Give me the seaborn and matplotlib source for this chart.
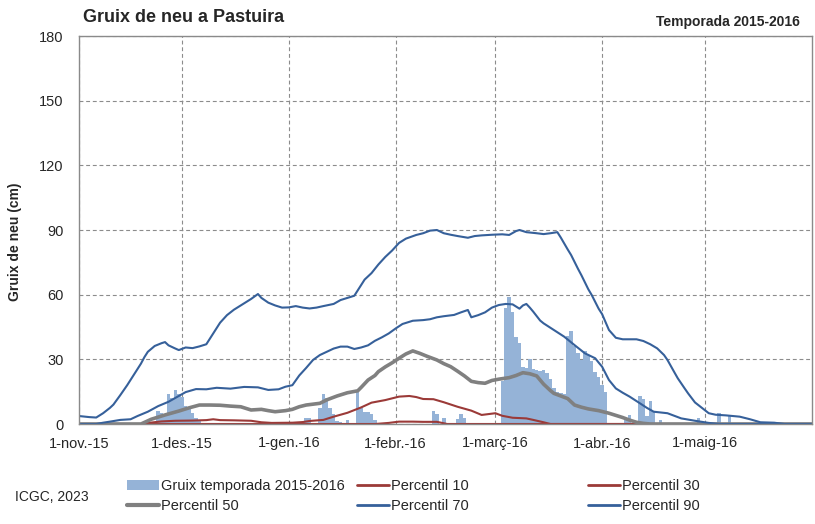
import pandas as pd
import matplotlib
matplotlib.use('Agg')
import matplotlib.pyplot as plt
from matplotlib.patches import Patch
from matplotlib.lines import Line2D
import seaborn as sns

# --- Data ---
season_start = '2015-11-01'
season_end = '2016-06-01'
month_labels = ['1-nov.-15', '1-des.-15', '1-gen.-16', '1-febr.-16',
                '1-març-16', '1-abr.-16', '1-maig-16']

# daily snow depth 2015-2016 (cm), one list per month
depth_nov = [0, 0, 0, 0, 0, 0, 0, 0, 0, 0, 0, 0, 0, 0, 0, 0, 0, 0, 0, 0,
             0, 0, 0, 6, 5, 4, 14, 12, 16, 14]
depth_des = [12.5, 8.5, 7, 5, 3, 1.5, 0, 0, 0, 0, 0, 0, 0, 0, 0, 0, 0, 0, 0, 0,
             0, 0, 0, 0, 0, 0, 0, 0, 0, 0, 0]
depth_gen = [0, 0, 0, 0, 0, 3, 3, 0, 0, 7.5, 14, 12, 7.5, 4.5, 1.5, 1, 0, 2, 0, 0,
             15, 7.5, 5.5, 5.5, 4.5, 2, 0, 0, 0, 0, 0]
depth_feb = [0, 0, 0, 0, 0, 0, 0, 0, 0, 0, 0, 6, 4.5, 0, 3, 0, 0, 0, 2.5, 4.5,
             3, 0, 0, 0, 0, 0, 0, 0, 0]
depth_mar = [0, 0, 20, 54, 59, 52, 40.5, 37.5, 26.5, 26, 30, 25.5, 25, 24.5, 25, 23.5,
             21, 16.5, 15, 14.2, 14, 41, 43, 36, 33, 29.5, 34, 32, 29, 24, 22]
depth_abr = [18, 15, 0, 0, 0, 0, 0, 2.5, 4, 0, 0, 13, 11.5, 3.5, 10.5, 6, 0, 2, 0, 0,
             0, 0, 0, 0, 0, 0, 0, 0, 3, 0]
depth_mai = [0, 0, 0, 0, 5, 0, 0, 3.5, 0, 0, 0, 0, 0, 0, 0, 0, 0, 0, 0, 0,
             0, 0, 0, 0, 0, 0, 0, 0, 0, 0, 0]

# percentiles, read at irregular days after 1 Nov
p90_days = [0, 3, 5, 7, 9, 10, 12, 14, 16, 18, 19, 20, 22, 24, 25, 26, 28, 29, 31, 33,
            35, 37, 39, 41, 43, 45, 47, 49, 50, 52, 53, 55, 57, 59, 61, 63, 65, 67, 69, 71,
            74, 76, 78, 80, 81, 83, 85, 87, 89, 91, 93, 95, 98, 100, 102, 104, 106, 108, 110, 113,
            115, 117, 120, 123, 125, 127, 128, 130, 133, 135, 137, 139, 140, 142, 143, 145, 146, 148, 149, 151,
            152, 154, 156, 158, 160, 162, 164, 166, 168, 170, 171, 173, 174, 176, 177, 179, 181, 183, 185, 188,
            192, 195, 198, 202, 205, 213]
p90_vals = [3.7, 3.2, 3.0, 5.0, 7.5, 9.0, 13.4, 18, 23, 28, 31, 33.5, 36.2, 37.5, 38, 36.5, 35, 34.3, 35.5, 35.2,
            36, 37, 42, 47, 50.5, 53, 55, 57, 58, 60.3, 58.5, 56.3, 55, 54, 54.1, 54.7, 54, 53.6, 54, 54.7,
            55.7, 57.5, 58.5, 59.5, 62, 67, 70, 74, 77.5, 80.5, 84, 86, 87.7, 88.5, 89.7, 90, 88.5, 87.8, 87.2, 86.4,
            87.2, 87.5, 87.8, 88, 87.7, 89.5, 90, 89, 88.5, 88.1, 88.5, 89, 86.5, 81, 78.4, 72, 69, 62.5, 59.8, 53.5,
            51, 43.6, 40, 39.3, 39.3, 39.3, 38.5, 37, 35.1, 32, 29.7, 24, 21.2, 16.5, 14.2, 10, 7.5, 5.0, 4.3, 4.0,
            3.4, 2.2, 0.8, 0.6, 0, 0]

p70_days = [0, 5, 7, 9, 12, 15, 17, 20, 23, 26, 29, 31, 34, 37, 40, 44, 48, 52, 55, 58,
            60, 62, 64, 66, 68, 70, 72, 74, 76, 78, 80, 82, 84, 86, 88, 90, 92, 94, 97, 100,
            102, 104, 106, 109, 111, 113, 114, 116, 118, 120, 122, 124, 126, 128, 129, 130, 131, 132, 134, 135,
            138, 141, 144, 147, 150, 151, 152, 154, 156, 158, 160, 163, 165, 167, 171, 173, 175, 179, 183, 186,
            213]
p70_vals = [0, 0, 0.6, 1.1, 1.9, 2.2, 3.7, 5.7, 8.3, 10.3, 13, 14.8, 16.2, 16.1, 16.8, 16.4, 17.2, 17, 15.8, 16.1,
            17.3, 18, 22.5, 26, 29.7, 32, 33.5, 35, 35.9, 35.9, 34.8, 35.5, 36.5, 38.6, 40.2, 42, 44.3, 46.4, 47.9, 48.2,
            48.6, 49.5, 50, 50.6, 51.8, 52.9, 49.5, 50.5, 51.8, 54, 55.2, 55.7, 55.5, 53.5, 55, 55.7, 54, 52.1, 48, 46.7,
            43.6, 40.5, 36.6, 32.8, 30.5, 28.5, 26.6, 20.4, 16.5, 14.5, 12.7, 9.6, 7.5, 5.7, 5, 3.8, 2.6, 1.5, 0.5, 0,
            0]

p50_days = [0, 18, 21, 25, 29, 32, 35, 38, 41, 44, 47, 50, 53, 55, 57, 60, 62, 64, 66, 68,
            70, 72, 75, 78, 81, 82, 84, 86, 87, 89, 91, 93, 95, 97, 99, 101, 104, 106, 108, 110,
            112, 114, 116, 118, 120, 122, 125, 127, 129, 131, 133, 135, 137, 138, 140, 142, 144, 146, 148, 151,
            154, 156, 158, 160, 162, 164, 166, 213]
p50_vals = [0, 0, 2.2, 4.2, 6, 7.5, 8.8, 8.8, 8.7, 8.3, 8, 6.5, 6.8, 6.2, 5.7, 6.2, 6.8, 8, 8.8, 9.2,
            9.6, 11.2, 13, 14.5, 15.4, 17, 20.4, 22.5, 24.3, 26.5, 28.4, 30.5, 32.5, 33.9, 32.8, 31.5, 29.7, 28, 26.6, 24.5,
            22.3, 19.8, 19.2, 18.9, 20.2, 20.8, 21.5, 22.5, 23.8, 23.3, 22.3, 18.5, 15.5, 14.2, 13, 11.8, 8.8, 7.8, 7, 6.2,
            5, 4, 3, 1.8, 0.8, 0.3, 0, 0]

p30_days = [0, 18, 20, 24, 28, 33, 37, 39, 41, 45, 50, 53, 56, 62, 65, 67, 71, 74, 78, 82,
            85, 89, 93, 96, 98, 100, 103, 106, 110, 114, 117, 120, 121, 123, 126, 130, 132, 135, 137, 213]
p30_vals = [0, 0, 0.5, 1.2, 1.5, 1.6, 1.8, 2.2, 1.8, 1.7, 1.5, 0.8, 0.5, 0.6, 0.9, 1.4, 1.9, 3.4, 5.2, 7.7,
            9.9, 11.1, 12.7, 13, 12.5, 11.6, 11.5, 10.1, 8, 6.2, 4.2, 4.8, 5, 3.8, 2.9, 2.6, 1.9, 0.8, 0, 0]

p10_days = [0, 86, 90, 93, 97, 100, 104, 107, 213]
p10_vals = [0, 0, 0.5, 1.1, 1.1, 1.0, 1.0, 0, 0]

# --- Styles ---
bar_color = '#95B3D7'
red = '#9B3A38'
blue = '#36609A'
grey = '#808080'
grid_color = '#8C8C8C'

sns.set_style('white')
plt.rcParams['font.family'] = ['Liberation Sans', 'DejaVu Sans']

# --- Build frames ---
depth = depth_nov + depth_des + depth_gen + depth_feb + depth_mar + depth_abr + depth_mai
day_index = list(range(len(depth)))

series = [('Percentil 10', p10_days, p10_vals),
          ('Percentil 30', p30_days, p30_vals),
          ('Percentil 50', p50_days, p50_vals),
          ('Percentil 70', p70_days, p70_vals),
          ('Percentil 90', p90_days, p90_vals)]
lines = pd.concat([pd.DataFrame({'dia': d, 'cm': v, 'serie': name})
                   for name, d, v in series], ignore_index=True)
palette = {'Percentil 10': red, 'Percentil 30': red, 'Percentil 50': grey,
           'Percentil 70': blue, 'Percentil 90': blue}
widths = {'Percentil 10': 1.5, 'Percentil 30': 1.5, 'Percentil 50': 2.6,
          'Percentil 70': 1.5, 'Percentil 90': 1.5}

start = pd.Timestamp(season_start)
month_starts = pd.date_range(season_start, '2016-05-01', freq='MS')
month_days = [(m - start).days for m in month_starts]
n_days = (pd.Timestamp(season_end) - start).days

# --- Plot ---
fig = plt.figure(figsize=(8.15, 5.24), dpi=100)
ax = fig.add_axes([79 / 815, 1 - 424 / 524, 733 / 815, 388 / 524])

ax.bar(day_index, depth, width=1.0, color=bar_color, linewidth=0, zorder=1)
sns.lineplot(data=lines, x='dia', y='cm', hue='serie', size='serie',
             hue_order=list(palette), palette=palette, sizes=widths,
             estimator=None, legend=False, ax=ax, zorder=2)

ax.set_xlim(0, n_days)
ax.set_ylim(0, 180)
ax.set_yticks(range(0, 181, 30))
ax.set_xticks(month_days)
ax.set_xticklabels(month_labels)
ax.set_xlabel('')
ax.set_ylabel('Gruix de neu (cm)', fontsize=10, fontweight='bold')
ax.yaxis.set_label_coords(-0.078, 0.47)

ax.set_axisbelow(True)
ax.grid(True, color=grid_color, linestyle=(0, (3.5, 2.5)), linewidth=0.8)
for s in ax.spines.values():
    s.set_color('#8A8A8A')
    s.set_linewidth(1.0)
ax.tick_params(axis='y', length=3, color='#8A8A8A', pad=8, labelsize=10.5)
ax.tick_params(axis='x', length=0, pad=9, labelsize=10.5)

# titles
fig.text(83 / 815, 1 - 18 / 524, 'Gruix de neu a Pastuira', fontsize=13,
         fontweight='bold', va='center')
fig.text(800 / 815, 1 - 22 / 524, 'Temporada 2015-2016', fontsize=10,
         fontweight='bold', va='center', ha='right')
fig.text(15 / 815, 1 - 497 / 524, 'ICGC, 2023', fontsize=10, va='center')

# legend in three fixed columns
leg_kw = dict(loc='upper left', frameon=False, fontsize=10.5, handlelength=2.2,
              handletextpad=0.15, labelspacing=0.4, borderpad=0, borderaxespad=0)
col1 = [Patch(facecolor=bar_color, edgecolor='none'), Line2D([], [], color=grey, lw=3)]
col2 = [Line2D([], [], color=red, lw=2), Line2D([], [], color=blue, lw=2)]
col3 = [Line2D([], [], color=red, lw=2), Line2D([], [], color=blue, lw=2)]
fig.legend(col1, ['Gruix temporada 2015-2016', 'Percentil 50'],
           bbox_to_anchor=(127 / 815, 1 - 479 / 524), **leg_kw)
fig.legend(col2, ['Percentil 10', 'Percentil 70'],
           bbox_to_anchor=(357 / 815, 1 - 479 / 524), **leg_kw)
fig.legend(col3, ['Percentil 30', 'Percentil 90'],
           bbox_to_anchor=(588 / 815, 1 - 479 / 524), **leg_kw)

fig.savefig('out.png', dpi=100)
